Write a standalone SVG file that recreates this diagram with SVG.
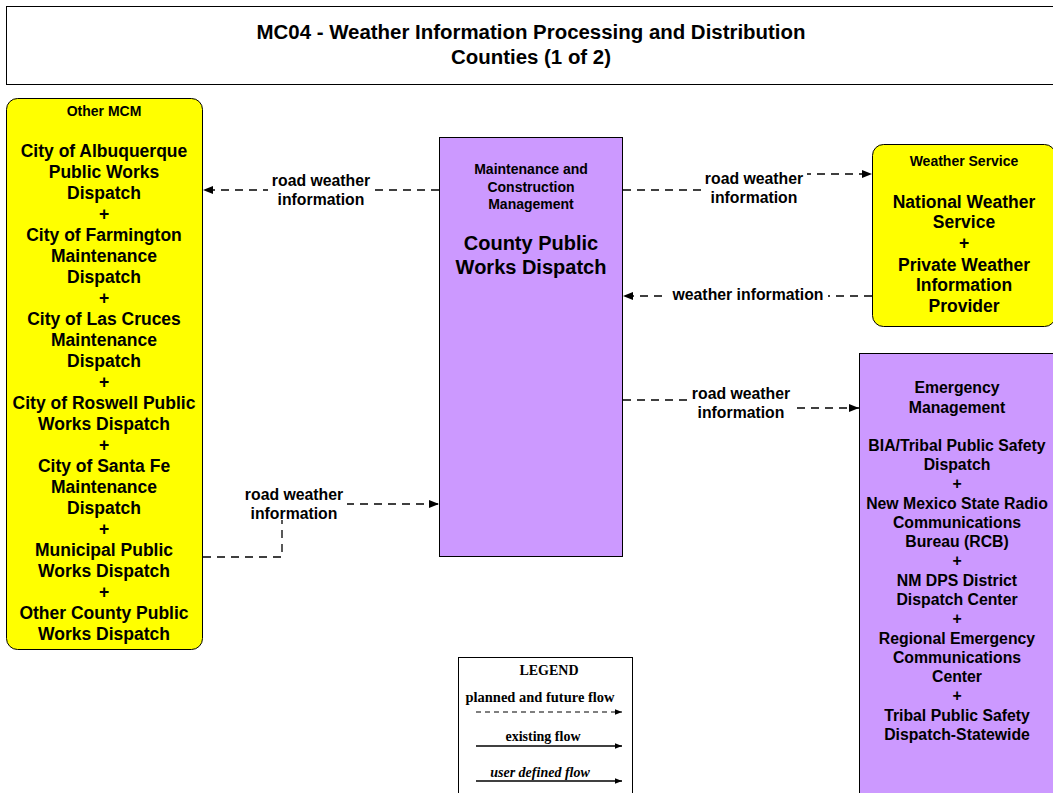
<svg xmlns="http://www.w3.org/2000/svg" width="1053" height="793" viewBox="0 0 1053 793">
<style>
.b{font-family:"Liberation Sans",Arial,sans-serif;font-weight:bold;text-anchor:middle;fill:#000}
.hd{font-size:14px}
.mn{font-size:17.5px}
.em{font-size:15.8px}
.lb{font-family:"Liberation Sans",Arial,sans-serif;font-weight:bold;font-size:15.8px;text-anchor:middle}
.flow{fill:none;stroke:#000;stroke-width:1.3;stroke-dasharray:8,6}
.lg{font-family:"Liberation Serif","Times New Roman",serif;font-weight:bold;font-size:14px;text-anchor:middle}
</style>
<defs>
<marker id="ah" viewBox="0 0 10 10" refX="10" refY="5" markerWidth="10" markerHeight="10" markerUnits="userSpaceOnUse" orient="auto">
<path d="M0,1 L10,5 L0,9 Z" fill="#000"/>
</marker>
<marker id="ahs" viewBox="0 0 10 10" refX="10" refY="5" markerWidth="7" markerHeight="7" markerUnits="userSpaceOnUse" orient="auto">
<path d="M0,1 L10,5 L0,9 Z" fill="#000"/>
</marker>
</defs>
<rect width="1053" height="793" fill="#fff"/>

<g id="title">
<rect x="6.5" y="6.5" width="1050" height="78" fill="#fff" stroke="#000" stroke-width="1"/>
<text class="b" x="531" y="39" font-size="20" textLength="549" lengthAdjust="spacingAndGlyphs">MC04 - Weather Information Processing and Distribution</text>
<text class="b" x="531" y="64" font-size="20" textLength="160" lengthAdjust="spacingAndGlyphs">Counties (1 of 2)</text>
</g>

<g id="connectors">
<path class="flow" d="M439,190 H203" marker-end="url(#ah)"/>
<path class="flow" d="M623,190 H754 V174 H872" marker-end="url(#ah)"/>
<path class="flow" d="M872,296 H623" marker-end="url(#ah)"/>
<path class="flow" d="M623,400 H741 V408 H859" marker-end="url(#ah)"/>
<path class="flow" d="M203,557 H282 V504 H439" marker-end="url(#ah)"/>
<g fill="#fff">
<rect x="268" y="169" width="106" height="36"/>
<rect x="701" y="168" width="106" height="36"/>
<rect x="668" y="285" width="160" height="18"/>
<rect x="688" y="382" width="106" height="36"/>
<rect x="241" y="484" width="106" height="36"/>
</g>
<text class="lb" x="321" y="186">road weather</text>
<text class="lb" x="321" y="205">information</text>
<text class="lb" x="754" y="184">road weather</text>
<text class="lb" x="754" y="203">information</text>
<text class="lb" x="748" y="300">weather information</text>
<text class="lb" x="741" y="399">road weather</text>
<text class="lb" x="741" y="418">information</text>
<text class="lb" x="294" y="500">road weather</text>
<text class="lb" x="294" y="519">information</text>
</g>

<g id="other-mcm">
<rect x="6.5" y="98.5" width="196" height="551" rx="11" fill="#ffff00" stroke="#000" stroke-width="1"/>
<text class="b hd" x="104" y="116">Other MCM</text>
<g class="b mn">
<text x="104" y="157">City of Albuquerque</text>
<text x="104" y="178">Public Works</text>
<text x="104" y="199">Dispatch</text>
<text x="104" y="220">+</text>
<text x="104" y="241">City of Farmington</text>
<text x="104" y="262">Maintenance</text>
<text x="104" y="283">Dispatch</text>
<text x="104" y="304">+</text>
<text x="104" y="325">City of Las Cruces</text>
<text x="104" y="346">Maintenance</text>
<text x="104" y="367">Dispatch</text>
<text x="104" y="388">+</text>
<text x="104" y="409">City of Roswell Public</text>
<text x="104" y="430">Works Dispatch</text>
<text x="104" y="451">+</text>
<text x="104" y="472">City of Santa Fe</text>
<text x="104" y="493">Maintenance</text>
<text x="104" y="514">Dispatch</text>
<text x="104" y="535">+</text>
<text x="104" y="556">Municipal Public</text>
<text x="104" y="577">Works Dispatch</text>
<text x="104" y="598">+</text>
<text x="104" y="619">Other County Public</text>
<text x="104" y="640">Works Dispatch</text>
</g>
</g>

<g id="county-public-works">
<rect x="439.5" y="137.5" width="183" height="419" fill="#cc99ff" stroke="#000" stroke-width="1"/>
<text class="b hd" x="531" y="174">Maintenance and</text>
<text class="b hd" x="531" y="192">Construction</text>
<text class="b hd" x="531" y="209">Management</text>
<text class="b" font-size="20" x="531" y="250">County Public</text>
<text class="b" font-size="20" x="531" y="274">Works Dispatch</text>
</g>

<g id="weather-service">
<rect x="872.5" y="144.5" width="183" height="182" rx="11" fill="#ffff00" stroke="#000" stroke-width="1"/>
<text class="b hd" x="964" y="166">Weather Service</text>
<g class="b mn">
<text x="964" y="208">National Weather</text>
<text x="964" y="228">Service</text>
<text x="964" y="249">+</text>
<text x="964" y="271">Private Weather</text>
<text x="964" y="291">Information</text>
<text x="964" y="312">Provider</text>
</g>
</g>

<g id="emergency-management">
<rect x="859.5" y="353.5" width="200" height="445" fill="#cc99ff" stroke="#000" stroke-width="1"/>
<g class="b em">
<text x="957" y="393">Emergency</text>
<text x="957" y="413">Management</text>
<text x="957" y="451">BIA/Tribal Public Safety</text>
<text x="957" y="470">Dispatch</text>
<text x="957" y="489">+</text>
<text x="957" y="509">New Mexico State Radio</text>
<text x="957" y="528">Communications</text>
<text x="957" y="547">Bureau (RCB)</text>
<text x="957" y="566">+</text>
<text x="957" y="586">NM DPS District</text>
<text x="957" y="605">Dispatch Center</text>
<text x="957" y="624">+</text>
<text x="957" y="644">Regional Emergency</text>
<text x="957" y="663">Communications</text>
<text x="957" y="682">Center</text>
<text x="957" y="701">+</text>
<text x="957" y="721">Tribal Public Safety</text>
<text x="957" y="740">Dispatch-Statewide</text>
</g>
</g>

<g id="legend">
<rect x="458.5" y="657.5" width="174" height="140" fill="#fff" stroke="#000" stroke-width="1"/>
<text class="lg" x="549" y="675">LEGEND</text>
<text class="lg" x="540" y="702" textLength="149" lengthAdjust="spacingAndGlyphs">planned and future flow</text>
<path d="M476,712 H622" fill="none" stroke="#000" stroke-width="1.2" stroke-dasharray="5,4" marker-end="url(#ahs)"/>
<text class="lg" x="543" y="741">existing flow</text>
<path d="M476,746 H622" fill="none" stroke="#000" stroke-width="1.3" marker-end="url(#ahs)"/>
<text class="lg" x="540" y="777" font-style="italic">user defined flow</text>
<path d="M476,781 H622" fill="none" stroke="#000" stroke-width="1.3" marker-end="url(#ahs)"/>
</g>
</svg>
